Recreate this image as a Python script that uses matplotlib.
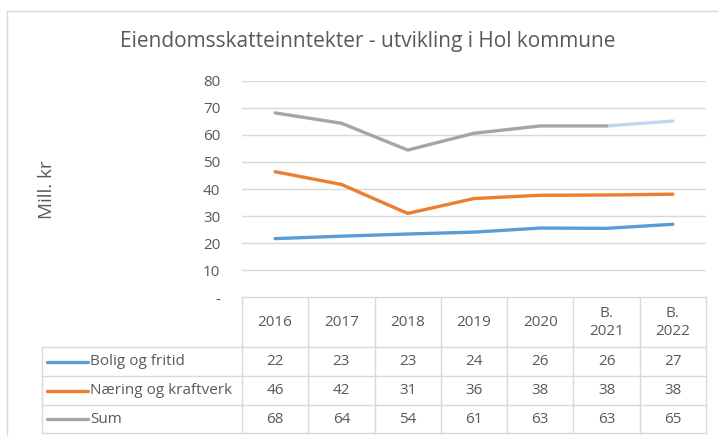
import numpy as np
import matplotlib.pyplot as plt

plt.rcParams['font.family'] = ['Open Sans', 'DejaVu Sans']

# Data (Mill. kr)
years = ['2016', '2017', '2018', '2019', '2020', 'B.\n2021', 'B.\n2022']
bolig = [21.7, 22.6, 23.4, 24.1, 25.6, 25.5, 27.0]
naering = [46.4, 41.7, 31.0, 36.5, 37.7, 37.8, 38.1]
total = [68.1, 64.3, 54.4, 60.6, 63.3, 63.3, 65.1]
series_names = ['Bolig og fritid', 'Næring og kraftverk', 'Sum']
yticks = [0, 10, 20, 30, 40, 50, 60, 70, 80]
ytick_labels = ['-', '10', '20', '30', '40', '50', '60', '70', '80']

BLUE = '#5B9BD5'
ORANGE = '#ED7D31'
GRAY = '#A5A5A5'
LIGHTBLUE = '#BDD7EE'
GRID = '#D9D9D9'
TXT = '#595959'

W, H = 718, 436
fig = plt.figure(figsize=(W / 100, H / 100), dpi=100)

# plot area (pixel positions)
px_left, px_right = 242, 706
px_top, px_bottom = 80.7, 297.4
ax = fig.add_axes([px_left / W, 1 - px_bottom / H,
                   (px_right - px_left) / W, (px_bottom - px_top) / H])
x = np.arange(len(years))
lw = 2.4
ax.plot(x, bolig, color=BLUE, lw=lw, solid_capstyle='round')
ax.plot(x, naering, color=ORANGE, lw=lw, solid_capstyle='round')
ax.plot(x[-2:], total[-2:], color=LIGHTBLUE, lw=lw, solid_capstyle='round')
ax.plot(x[:-1], total[:-1], color=GRAY, lw=lw, solid_capstyle='round')
ax.set_xlim(-0.5, len(years) - 0.5)
ax.set_ylim(0, 80)
ax.set_yticks(yticks)
ax.set_yticklabels(ytick_labels, color=TXT, fontsize=11)
ax.set_xticks([])
ax.tick_params(axis='y', length=0, pad=15.5)
ax.yaxis.grid(True, color=GRID, lw=1)
ax.set_axisbelow(True)
for s in ax.spines.values():
    s.set_visible(False)

# overlay in pixel coordinates: border, title, table
ov = fig.add_axes([0, 0, 1, 1], zorder=-1)
ov.set_xlim(0, W)
ov.set_ylim(H, 0)
ov.axis('off')
ov.plot([6.5, W], [11, 11], color=GRID, lw=1)
ov.plot([6.5, 6.5], [11, H], color=GRID, lw=1)

ov.text(368, 42, 'Eiendomsskatteinntekter - utvikling i Hol kommune',
        ha='center', va='center', fontsize=15, color=TXT)
ov.text(47, 190, 'Mill. kr', rotation=90, ha='center', va='center',
        fontsize=13.5, color=TXT)

# data table
col_w = (px_right - px_left) / len(years)
row_edges = [297.4, 347.3, 376, 405, 433]
tbl_left = 41.7
for ye in row_edges:
    x0 = px_left if ye == row_edges[0] else tbl_left
    ov.plot([x0, px_right], [ye, ye], color=GRID, lw=1)
for i in range(len(years) + 1):
    xe = px_left + i * col_w
    ov.plot([xe, xe], [row_edges[0], row_edges[-1]], color=GRID, lw=1)
ov.plot([tbl_left, tbl_left], [row_edges[1], row_edges[-1]], color=GRID, lw=1)

hy = (row_edges[0] + row_edges[1]) / 2
for i, yr in enumerate(years):
    ov.text(px_left + (i + 0.5) * col_w, hy, yr, ha='center', va='center',
            fontsize=11, color=TXT, linespacing=1.25)

colors = [BLUE, ORANGE, GRAY]
for r, (name, vals, c) in enumerate(zip(series_names, [bolig, naering, total], colors)):
    cy = (row_edges[r + 1] + row_edges[r + 2]) / 2
    ov.plot([47, 88], [cy, cy], color=c, lw=2.4, solid_capstyle='round')
    ov.text(90, cy, name, ha='left', va='center', fontsize=11, color=TXT)
    for i, v in enumerate(vals):
        ov.text(px_left + (i + 0.5) * col_w, cy, f'{v:.0f}', ha='center',
                va='center', fontsize=11, color=TXT)

fig.savefig('out.png', dpi=100)
